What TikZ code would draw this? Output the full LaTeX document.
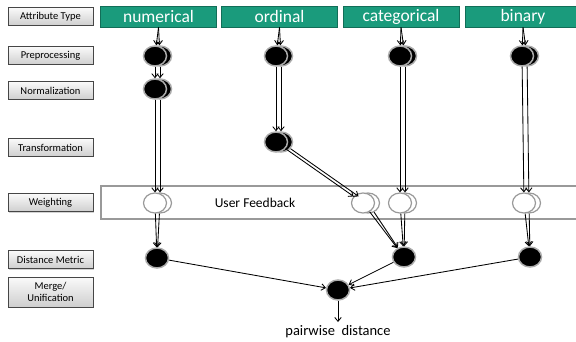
\documentclass[tikz,border=0pt]{standalone}
\usepackage{fontspec}
\setmainfont{Carlito}
\usepackage{tikz}
\usetikzlibrary{arrows, arrows.meta, shapes.geometric, shadows}

\definecolor{hdrgreen}{RGB}{26,155,124}
\definecolor{hdredge}{RGB}{18,110,88}

\begin{document}
\begin{tikzpicture}[x=1pt, y=-1pt, ->, > = {Straight Barb[length=4pt, width=6.5pt]},
                    line width=0.85pt]

\tikzstyle{lbl} = [draw=gray!55!black, line width=0.5pt, top color=gray!4, bottom color=gray!38,
                   minimum width=85pt, minimum height=18pt, inner sep=1pt,
                   font=\fontsize{10.5}{11.5}\selectfont, align=center,
                   drop shadow={shadow xshift=1pt, shadow yshift=-1pt, opacity=0.35}]
\tikzstyle{hdr} = [fill=hdrgreen, draw=hdredge, line width=0.6pt, text=white,
                   minimum width=116pt, minimum height=21pt, inner sep=0pt,
                   font=\fontsize{17.5}{19}\selectfont]
\tikzstyle{blk} = [ellipse, fill=black, draw=gray!65, line width=1.5pt,
                   minimum width=23pt, minimum height=20pt, inner sep=0pt]
\tikzstyle{wht} = [ellipse, fill=white, draw=gray!80, line width=1.2pt,
                   minimum width=23pt, minimum height=20pt, inner sep=0pt]
\tikzstyle{band} = [draw=gray!80, line width=1.1pt, fill=white]

\path[use as bounding box, clip] (0,0) rectangle (576,342);

    % left row labels
    \foreach \n/\y/\t in {att/16.5/Attribute Type, pre/55.5/Preprocessing,
                          nrm/90.5/Normalization, trf/147.5/Transformation,
                          wgt/202.5/Weighting, dst/259.5/Distance Metric}
        \node[lbl] (L-\n) at (50.5,\y) {\t};
    \node[lbl, minimum height=30pt] (L-mrg) at (50.5,292) {Merge/\\Unification};

    % attribute type headers
    \foreach \c/\x/\t in {num/158.5/numerical, ord/279.5/ordinal,
                          cat/401/categorical, bin/523/binary}
        \node[hdr] (hdr-\c) at (\x,16.5) {\t};

    % weighting band
    \node[band, minimum width=490pt, minimum height=33pt] (band) at (346,202.5) {};
    \node[font=\fontsize{13.5}{15}\selectfont] (fb) at (255,203) {User Feedback};

    % preprocessing nodes (two records each)
    \foreach \c/\x in {num/155, ord/276, cat/400, bin/522}
    {
        \node[blk] (pre-\c-b) at (\x+5,56) {};
        \node[blk] (pre-\c) at (\x,56) {};
    }

    % normalization and transformation
    \node[blk] (nrm-num-b) at (160,89) {};
    \node[blk] (nrm-num) at (155,89) {};
    \node[blk] (trf-ord-b) at (281,142) {};
    \node[blk] (trf-ord) at (276,142) {};

    % weighting nodes
    \foreach \c/\x in {num/155, ord/363, cat/400, bin/524}
    {
        \node[wht] (wgt-\c-b) at (\x+5,203) {};
        \node[wht] (wgt-\c) at (\x,203) {};
    }

    % distance metric and merge
    \node[blk] (dst-num) at (157,258) {};
    \node[blk] (dst-cat) at (404,257) {};
    \node[blk] (dst-bin) at (530,257) {};
    \node[blk] (mrg) at (338,290) {};
    \node[font=\fontsize{14.5}{16}\selectfont] (pair) at (338,332) {pairwise\ \ distance};

    % headers into preprocessing
    \foreach \c in {num, ord, cat, bin}
    {
        \draw (hdr-\c.south) -- (pre-\c);
        \draw (hdr-\c.south) -- (pre-\c-b);
    }

    % double connections between stages
    \foreach \a/\b in {pre-num/nrm-num, nrm-num/wgt-num, pre-ord/trf-ord,
                       trf-ord/wgt-ord, pre-cat/wgt-cat, pre-bin/wgt-bin}
    {
        \draw (\a) -- (\b);
        \draw (\a-b) -- (\b-b);
    }

    % weighting into distance metric
    \foreach \a/\b in {wgt-num/dst-num, wgt-ord/dst-cat, wgt-cat/dst-cat, wgt-bin/dst-bin}
    {
        \draw (\a) -- (\b);
        \draw (\a-b) -- (\b);
    }

    % merge
    \foreach \a in {dst-num, dst-cat, dst-bin}
        \draw (\a) -- (mrg);
    \draw (mrg) -- (pair);

\end{tikzpicture}
\end{document}
